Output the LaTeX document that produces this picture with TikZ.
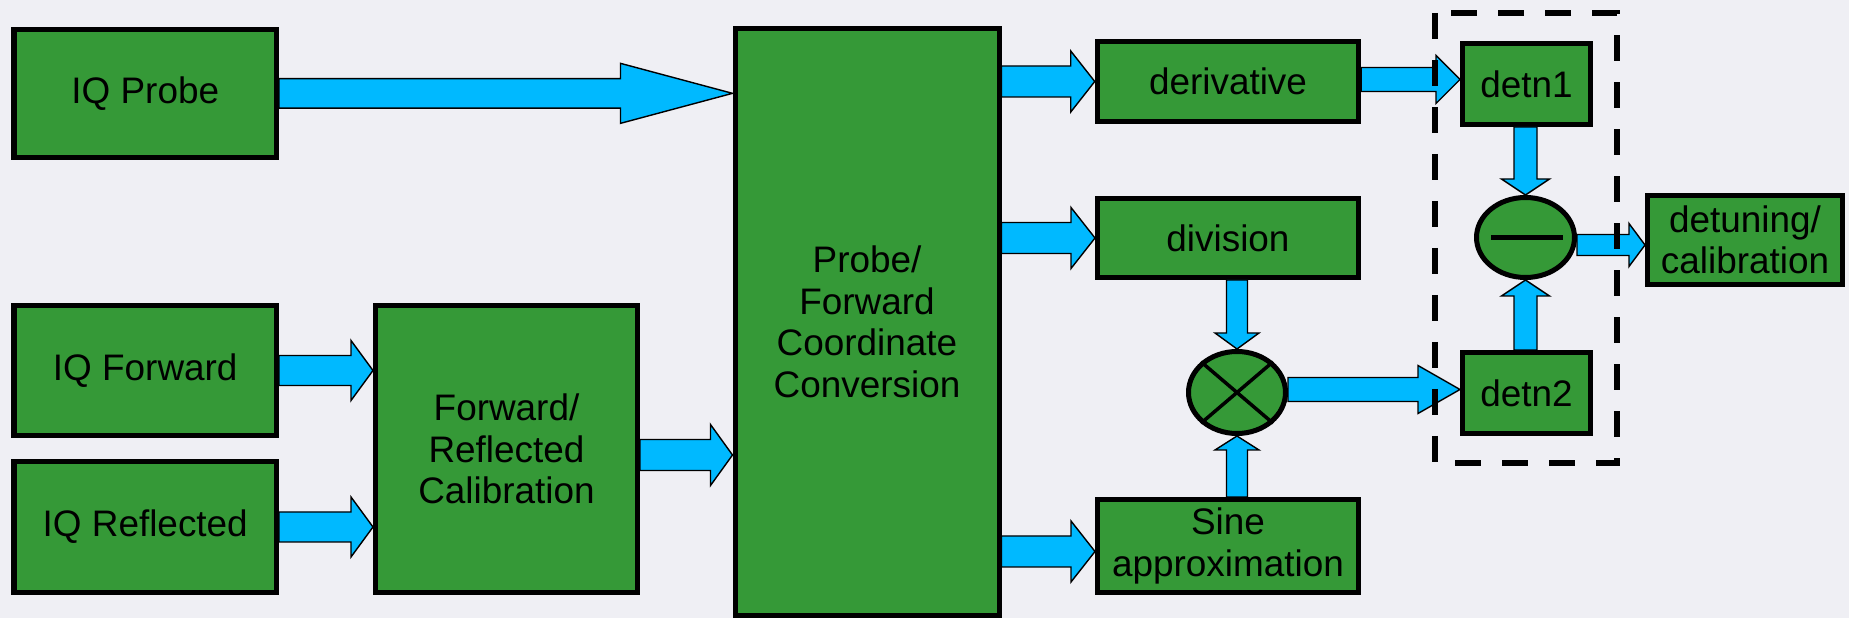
\documentclass[tikz,border=0pt]{standalone}
\usepackage{fontspec}
\setmainfont{Liberation Sans}
\usetikzlibrary{calc,shapes.geometric}

\definecolor{bggray}{RGB}{239,239,244}
\definecolor{blockgreen}{RGB}{53,153,55}
\definecolor{flowcyan}{RGB}{0,185,255}

\tikzset{
  blk/.style={draw,line width=0.05cm,fill=blockgreen,align=center,inner sep=0pt},
  flow/.style={draw,line width=0.4pt,fill=flowcyan,line join=miter},
}

% shaft half width, head half width, head length, from, to
\newcommand\blockarrow[5]{%
  \coordinate (ba-s) at #4;
  \coordinate (ba-t) at #5;
  \coordinate (ba-h) at ($(ba-t)!#3cm!(ba-s)$);
  \draw[flow] ($(ba-s)!#1cm!90:(ba-t)$) -- ($(ba-h)!#1cm!90:(ba-t)$)
    -- ($(ba-h)!#2cm!90:(ba-t)$) -- (ba-t) -- ($(ba-h)!#2cm!-90:(ba-t)$)
    -- ($(ba-h)!#1cm!-90:(ba-t)$) -- ($(ba-s)!#1cm!-90:(ba-t)$) -- cycle;
}

\begin{document}
\begin{tikzpicture}[x=1cm,y=-1cm,font=\fontsize{10.5}{11.8}\selectfont]

  \useasboundingbox (0,0) rectangle (18.49,6.18);
  \fill[bggray] (0,0) rectangle (18.49,6.18);

  \begin{scope}[every node/.style={blk}]
    \node (iqp)  at (1.4525,0.9335) [minimum width=2.625cm,minimum height=1.283cm] {IQ Probe};
    \node (iqf)  at (1.4525,3.705)  [minimum width=2.625cm,minimum height=1.30cm] {IQ Forward};
    \node (iqr)  at (1.4525,5.27)   [minimum width=2.625cm,minimum height=1.31cm] {IQ Reflected};
    \node (cal)  at (5.065,4.49)    [minimum width=2.62cm,minimum height=2.87cm] {Forward/\\Reflected\\Calibration};
    \node (conv) at (8.67,3.22)     [minimum width=2.64cm,minimum height=5.87cm] {Probe/\\Forward\\Coordinate\\Conversion};
    \node (der)  at (12.28,0.815)   [minimum width=2.615cm,minimum height=0.80cm] {derivative};
    \node (div)  at (12.28,2.38)    [minimum width=2.61cm,minimum height=0.79cm] {division};
    \node (sin)  at (12.28,5.46)    [minimum width=2.61cm,minimum height=0.93cm] {Sine\\approximation};
    \node (d1)   at (15.265,0.84)   [minimum width=1.28cm,minimum height=0.81cm] {detn1};
    \node (d2)   at (15.265,3.93)   [minimum width=1.28cm,minimum height=0.81cm] {detn2};
    \node (out)  at (17.45,2.40)    [minimum width=1.95cm,minimum height=0.89cm] {detuning/\\calibration};
    \node (mul)  at (12.37,3.925)   [ellipse,minimum width=0.97cm,minimum height=0.82cm] {};
    \node (sub)  at (15.255,2.375)  [ellipse,minimum width=0.98cm,minimum height=0.80cm] {};
  \end{scope}

  % operator marks
  \draw[line width=0.035cm] (mul.north west) -- (mul.south east)
                            (mul.north east) -- (mul.south west);
  \draw[line width=0.05cm] ($(sub)+(-0.345,0)$) -- ($(sub)+(0.375,0)$);

  % inputs
  \blockarrow{.147}{.30}{1.12}{(iqp.east)}{(iqp.east -| conv.west)}
  \blockarrow{.15}{.30}{.22}{(iqf.east)}{(iqf.east -| cal.west)}
  \blockarrow{.15}{.30}{.22}{(iqr.east)}{(iqr.east -| cal.west)}
  \coordinate (cc) at ($(cal.east)+(0,0.06)$);
  \blockarrow{.155}{.305}{.22}{(cc)}{(cc -| conv.west)}

  % conversion outputs
  \blockarrow{.155}{.305}{.24}{(conv.east |- der.west)}{(der.west)}
  \blockarrow{.155}{.305}{.24}{(conv.east |- div.west)}{(div.west)}
  \coordinate (cs) at ($(sin.west)+(0,0.055)$);
  \blockarrow{.155}{.305}{.24}{(conv.east |- cs)}{(cs)}

  % product and difference
  \blockarrow{.105}{.22}{.16}{(mul.north |- div.south)}{(mul.north)}
  \blockarrow{.105}{.22}{.14}{(mul.south |- sin.north)}{(mul.south)}
  \coordinate (dd) at ($(der.east)+(0,-0.02)$);
  \blockarrow{.12}{.24}{.24}{(dd)}{(dd -| d1.west)}
  \coordinate (md) at ($(mul.east)+(0,-0.03)$);
  \blockarrow{.12}{.24}{.42}{(md)}{(md -| d2.west)}
  \blockarrow{.115}{.24}{.16}{(sub.north |- d1.south)}{(sub.north)}
  \blockarrow{.115}{.24}{.16}{(sub.south |- d2.north)}{(sub.south)}
  \coordinate (sd) at ($(out.west)+(0,0.05)$);
  \blockarrow{.105}{.215}{.16}{(sub.east |- sd)}{(sd)}

  % detuning group
  \draw[line width=0.06cm,dash pattern=on 0.26cm off 0.21cm] (14.35,0.13) rectangle (16.17,4.63);

\end{tikzpicture}
\end{document}
